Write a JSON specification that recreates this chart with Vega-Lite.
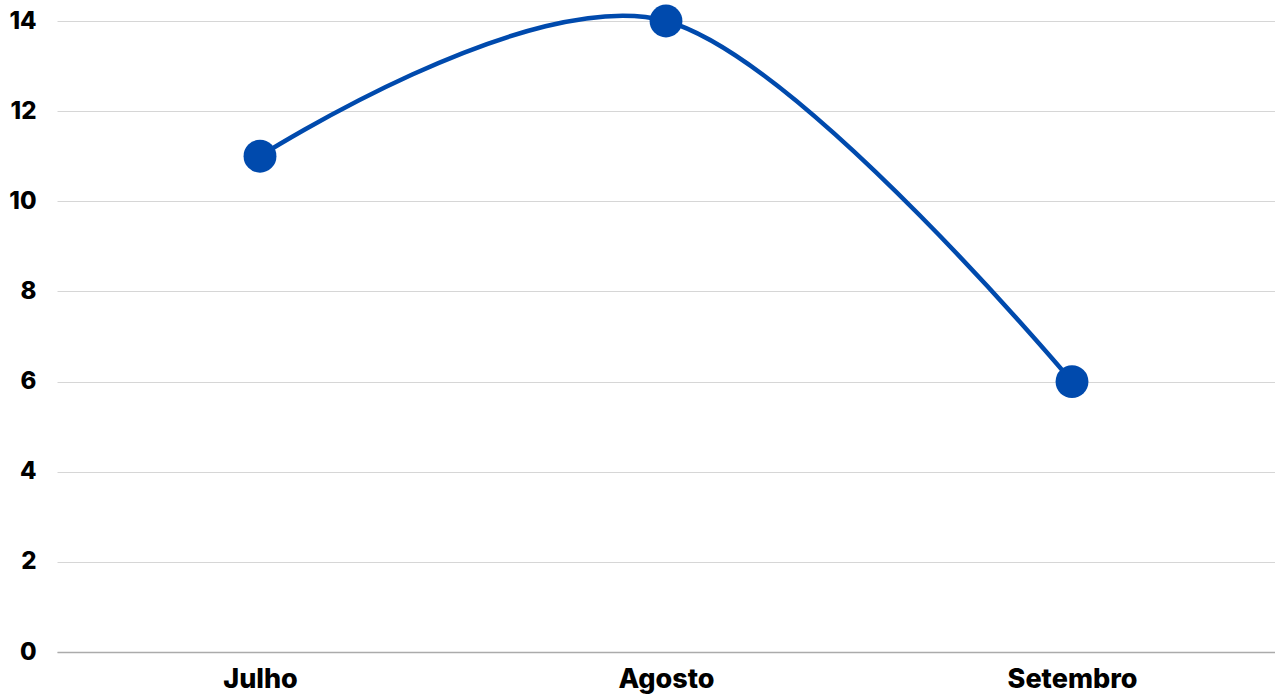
{
  "$schema": "https://vega.github.io/schema/vega-lite/v6.json",
  "autosize": {"type": "none"},
  "width": 1218,
  "height": 631,
  "padding": {"left": 57, "top": 21, "right": 0, "bottom": 46},
  "background": "white",
  "config": {"view": {"stroke": null}, "font": "Inter"},
  "data": {"values": [
    {"mes": "Julho", "valor": 11},
    {"mes": "Agosto", "valor": 14},
    {"mes": "Setembro", "valor": 6}
  ]},
  "encoding": {
    "x": {"field": "mes", "type": "nominal", "sort": null,
      "scale": {"type": "point", "padding": 0.5},
      "axis": {"title": null, "labelAngle": 0, "labelFont": "Inter", "labelFontWeight": 800, "labelFontSize": 27, "labelColor": "#000000", "labelPadding": 14, "ticks": false, "domain": true, "domainColor": "#ababab", "domainWidth": 1.5, "grid": false}},
    "y": {"field": "valor", "type": "quantitative",
      "scale": {"domain": [0, 14], "nice": false, "zero": true},
      "axis": {"title": null, "values": [0, 2, 4, 6, 8, 10, 12, 14], "labelFont": "Inter", "labelFontWeight": 800, "labelFontSize": 24, "labelColor": "#000000", "labelPadding": 21, "ticks": false, "domain": false, "grid": true, "gridColor": "#d6d6d6", "gridWidth": 1}}
  },
  "layer": [
    {"mark": {"type": "line", "interpolate": "cardinal", "color": "#004AAD", "strokeWidth": 4.5}},
    {"mark": {"type": "point", "filled": true, "opacity": 1, "color": "#004AAD", "size": 1080}}
  ]
}
